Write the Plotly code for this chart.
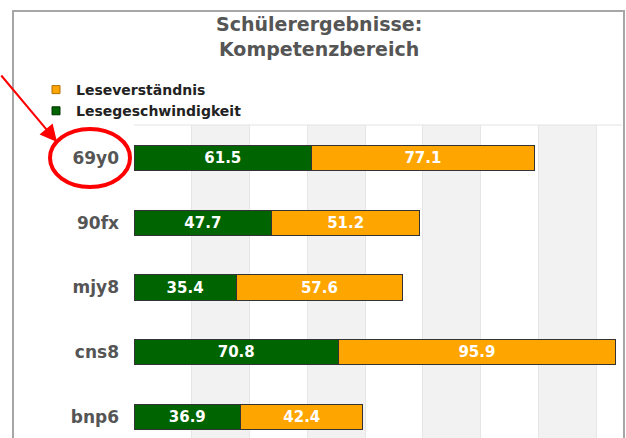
import plotly.graph_objects as go

categories = ["69y0", "90fx", "mjy8", "cns8", "bnp6"]
speed = [61.5, 47.7, 35.4, 70.8, 36.9]          # Lesegeschwindigkeit
comprehension = [77.1, 51.2, 57.6, 95.9, 42.4]  # Leseverständnis
stripe_starts = [20, 60, 100, 140]
stripe_width = 20
title_text = "Schülerergebnisse:<br>Kompetenzbereich"

GREEN = "#006400"
ORANGE = "#FFA500"
FONT = "DejaVu Sans"

W, H = 626, 438
ML, MR, MT, MB = 134, 4, 125, 0
PW, PH = W - ML - MR, H - MT - MB


def px_x(p):
    return (p - ML) / PW


def px_y(p):
    return (H - MB - p) / PH


fig = go.Figure()
fig.add_trace(go.Bar(
    y=categories, x=speed, orientation="h", name="Lesegeschwindigkeit",
    marker=dict(color=GREEN, line=dict(color="#333333", width=1)),
    texttemplate="%{x:.1f}", textposition="inside", insidetextanchor="middle",
    textangle=0, constraintext="none",
    textfont=dict(family=FONT, size=15, color="white", weight="bold"),
    width=0.39, showlegend=False, hoverinfo="skip",
))
fig.add_trace(go.Bar(
    y=categories, x=comprehension, orientation="h", name="Leseverständnis",
    marker=dict(color=ORANGE, line=dict(color="#333333", width=1)),
    texttemplate="%{x:.1f}", textposition="inside", insidetextanchor="middle",
    textangle=0, constraintext="none",
    textfont=dict(family=FONT, size=15, color="white", weight="bold"),
    width=0.39, showlegend=False, hoverinfo="skip",
))
# legend entries
for name, col, edge in [("Leseverständnis", ORANGE, "#b07000"),
                        ("Lesegeschwindigkeit", GREEN, "#003300")]:
    fig.add_trace(go.Scatter(
        x=[None], y=[None], mode="markers", name=name,
        marker=dict(symbol="square", size=8, color=col, line=dict(color=edge, width=1)),
    ))

shapes = []
for s in stripe_starts:
    shapes.append(dict(type="rect", xref="x", yref="paper", x0=s, x1=s + stripe_width,
                       y0=0, y1=1, fillcolor="#f2f2f2", line=dict(width=0), layer="below"))
# top border of plot area
shapes.append(dict(type="line", xref="paper", yref="paper", x0=0, x1=1, y0=1, y1=1,
                   line=dict(color="#e3e3e3", width=1), layer="below"))
# outer frame
shapes.append(dict(type="rect", xref="paper", yref="paper",
                   x0=px_x(13), x1=px_x(624), y0=px_y(470), y1=px_y(11),
                   line=dict(color="#a6a6a6", width=2), fillcolor="rgba(0,0,0,0)"))
# red ellipse
shapes.append(dict(type="circle", xref="paper", yref="paper",
                   x0=px_x(50), x1=px_x(130), y0=px_y(187), y1=px_y(129),
                   line=dict(color="#ff0000", width=4)))

annotations = [
    dict(text=title_text, xref="paper", yref="paper", x=px_x(319), y=px_y(37),
         xanchor="center", yanchor="middle", showarrow=False,
         font=dict(family=FONT, size=19, color="#555555", weight="bold")),
    dict(text="", xref="paper", yref="paper", x=px_x(57), y=px_y(142),
         ax=-68, ay=-68, showarrow=True, arrowhead=2, arrowsize=1.7,
         arrowwidth=2, arrowcolor="#ff0000", standoff=0),
]

fig.update_layout(
    width=W, height=H, margin=dict(l=ML, r=MR, t=MT, b=MB),
    paper_bgcolor="white", plot_bgcolor="white",
    barmode="stack", bargap=0.6,
    shapes=shapes, annotations=annotations,
    legend=dict(x=px_x(36), y=px_y(74), xanchor="left", yanchor="top",
                traceorder="normal",
                font=dict(family=FONT, size=14, color="#222222", weight="bold"),
                bgcolor="rgba(0,0,0,0)", itemclick=False),
    xaxis=dict(range=[0, 169], showticklabels=False, showgrid=True, gridcolor="#e6e6e6",
               gridwidth=1, tick0=0, dtick=20, zeroline=False, showline=False,
               fixedrange=True),
    yaxis=dict(range=[4.324, -0.51], type="category", showgrid=False, zeroline=False,
               ticks="", ticklabelstandoff=14,
               tickfont=dict(family=FONT, size=17, color="#555555", weight="bold"),
               fixedrange=True),
)

fig.write_html("out.html", config={"displayModeBar": False},
               post_script="document.body.style.margin='0px';document.body.style.overflow='hidden';")
